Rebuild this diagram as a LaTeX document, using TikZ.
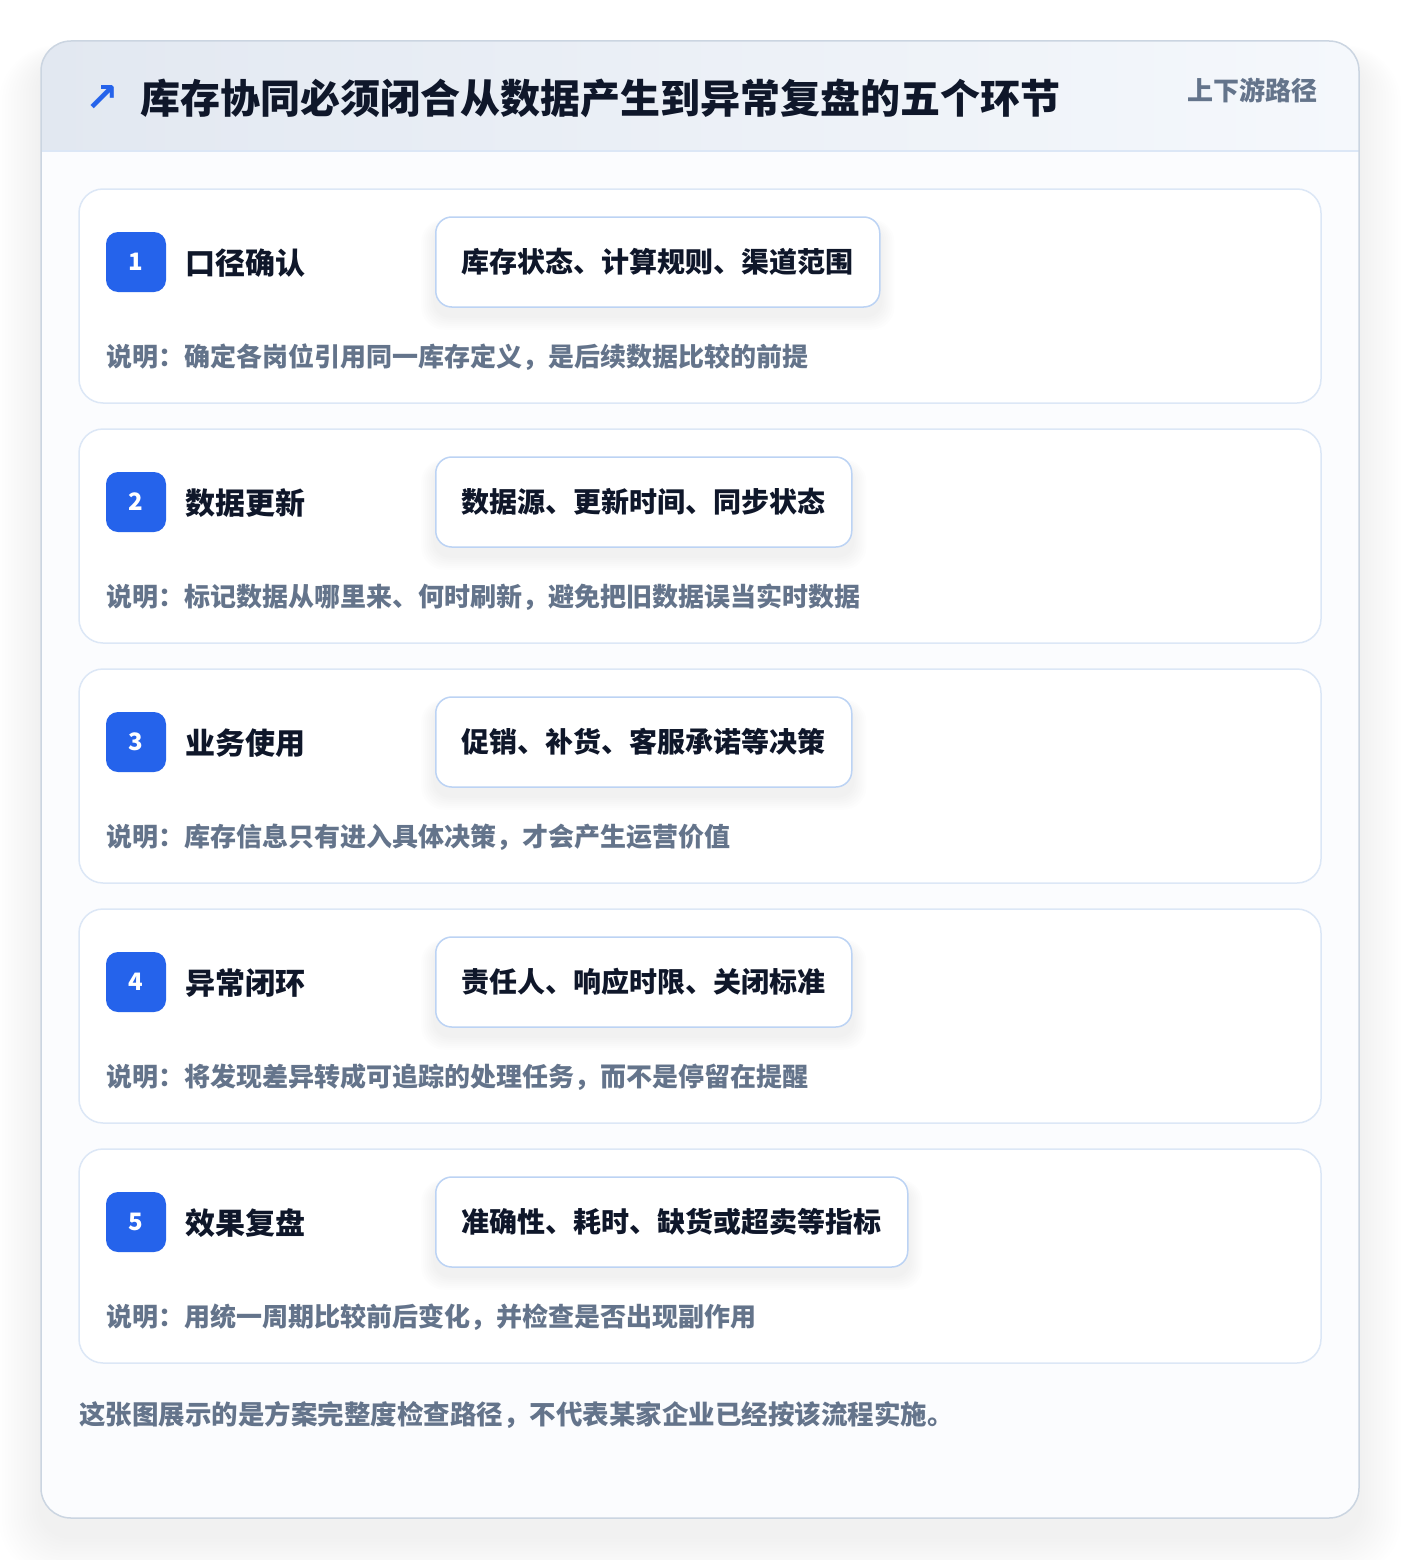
\documentclass[tikz,border=0pt]{standalone}
\usepackage{fontspec}
\setmainfont{Noto Sans CJK SC}
\newfontfamily\symfont{DejaVu Sans}
\definecolor{brandblue}{HTML}{2563EB}
\definecolor{inkdark}{HTML}{0F172A}
\definecolor{slatetext}{HTML}{64748B}
\definecolor{cardline}{HTML}{DCE7F6}
\definecolor{tagline}{HTML}{BCD3F4}
\definecolor{frameline}{HTML}{CBD5E1}
\definecolor{headleft}{HTML}{E2E8F1}
\definecolor{headright}{HTML}{F5F8FC}
\definecolor{bodyfill}{HTML}{FBFCFE}

\pgfdeclarelayer{cards}
\pgfdeclarelayer{shade}
\pgfsetlayers{cards,shade,main}

\tikzset{
  stepcard/.style={draw=cardline, line width=1.5pt, fill=white, rounded corners=24pt},
  badge/.style={fill=brandblue, rounded corners=12pt, minimum size=60pt, inner sep=0pt, text=white, font=\fontsize{24}{24}\selectfont\bfseries},
  steptitle/.style={anchor=west, inner sep=0pt, text=inkdark, font=\fontsize{30}{30}\selectfont\bfseries},
  tagbox/.style={anchor=west, draw=tagline, line width=1.5pt, fill=white, rounded corners=16pt, minimum height=90pt, inner xsep=26pt, inner ysep=0pt, text=inkdark, font=\fontsize{28}{28}\selectfont\bfseries},
  desc/.style={anchor=west, inner sep=0pt, text=slatetext, font=\fontsize{26}{26}\selectfont\bfseries},
}

\begin{document}
\begin{tikzpicture}[x=1pt, y=-1pt]

\useasboundingbox (0,0) rectangle (1400,1560);
\begin{pgfonlayer}{cards}
\fill[white] (0,0) rectangle (1400,1560);

\foreach \s in {1,...,14}
  \fill[black, opacity=.005, rounded corners=30pt+\s*2pt] (41-\s*3,41-\s*1+18) rectangle (1359+\s*3,1518+\s*3+18);

\fill[bodyfill, rounded corners=30pt] (41,41) rectangle (1359,1518);
\begin{scope}
  \clip[rounded corners=30pt] (41,41) rectangle (1359,1518);
  \shade[left color=headleft, right color=headright] (41,41) rectangle (1359,151);
\end{scope}
\draw[cardline, line width=1.5pt] (41,151) -- (1359,151);
\draw[frameline, line width=1.5pt, rounded corners=30pt] (41,41) rectangle (1359,1518);
\end{pgfonlayer}

\node[text=brandblue, inner sep=0pt, font=\symfont\bfseries\fontsize{40}{40}\selectfont] (icon) at (102,99) {↗};
\node[anchor=west, inner sep=0pt, text=inkdark, font=\fontsize{40}{40}\selectfont\bfseries] (title) at (140,98) {库存协同必须闭合从数据产生到异常复盘的五个环节};
\node[anchor=east, inner sep=0pt, text=slatetext, font=\fontsize{26}{26}\selectfont\bfseries] (route) at (1318,90) {上下游路径};

\foreach \i/\name/\tags/\note in {
  1/口径确认/库存状态、计算规则、渠道范围/确定各岗位引用同一库存定义，是后续数据比较的前提,
  2/数据更新/数据源、更新时间、同步状态/标记数据从哪里来、何时刷新，避免把旧数据误当实时数据,
  3/业务使用/促销、补货、客服承诺等决策/库存信息只有进入具体决策，才会产生运营价值,
  4/异常闭环/责任人、响应时限、关闭标准/将发现差异转成可追踪的处理任务，而不是停留在提醒,
  5/效果复盘/准确性、耗时、缺货或超卖等指标/用统一周期比较前后变化，并检查是否出现副作用}{
  \pgfmathsetmacro{\y}{189+240*(\i-1)}
  \begin{pgfonlayer}{cards}
    \draw[stepcard] (79,\y) rectangle (1321,\y+214);
  \end{pgfonlayer}
  \node[badge] (badge\i) at (136,\y+73) {\i};
  \node[steptitle] (name\i) at (185,\y+74) {\name};
  \node[tagbox] (tag\i) at (435,\y+73) {\tags};
  \begin{pgfonlayer}{shade}
    \foreach \k in {1,...,7}
      \fill[black, opacity=.009, rounded corners=16pt+\k*1pt] ([xshift=-\k*2pt, yshift=-\k*2pt-8pt]tag\i.south west) rectangle ([xshift=\k*2pt, yshift=\k*1pt-10pt]tag\i.north east);
  \end{pgfonlayer}
  \node[desc] (note\i) at (106,\y+168) {说明：\note};
}

\node[anchor=west, inner sep=0pt, text=slatetext, font=\fontsize{26.5}{26.5}\selectfont\bfseries] (footer) at (79,1415) {这张图展示的是方案完整度检查路径，不代表某家企业已经按该流程实施。};

\end{tikzpicture}
\end{document}
